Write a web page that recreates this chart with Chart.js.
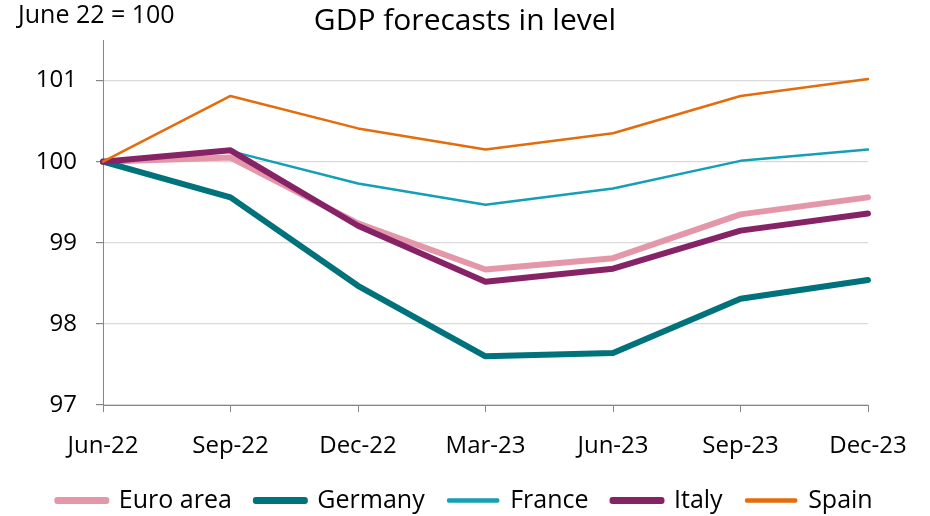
<!DOCTYPE html>
<html>
<head>
<meta charset="utf-8">
<title>GDP forecasts in level</title>
<script src="https://cdn.jsdelivr.net/npm/chart.js@4.4.0/dist/chart.umd.min.js"></script>
<style>
  html, body { margin: 0; padding: 0; background: #ffffff; }
  canvas { display: block; }
</style>
</head>
<body>
<canvas id="gdp" width="930" height="516"></canvas>
<script>
// Forecast vintages (x axis)
const quarters = ['Jun-22', 'Sep-22', 'Dec-22', 'Mar-23', 'Jun-23', 'Sep-23', 'Dec-23'];

// GDP level forecasts, index June 22 = 100
const euroArea = [100, 100.05, 99.24, 98.67, 98.81, 99.35, 99.56];
const germany  = [100, 99.56, 98.47, 97.60, 97.64, 98.31, 98.54];
const france   = [100, 100.13, 99.73, 99.47, 99.67, 100.01, 100.15];
const italy    = [100, 100.14, 99.21, 98.52, 98.68, 99.15, 99.36];
const spain    = [100, 100.81, 100.41, 100.15, 100.35, 100.81, 101.02];

// Y axis tick values
const yTicks = [97, 98, 99, 100, 101];

const FONT = '"Open Sans"';

// Note drawn in the top-left corner
const baseNote = {
  id: 'baseNote',
  afterDraw(chart) {
    const ctx = chart.ctx;
    ctx.save();
    ctx.font = '25px ' + FONT;
    ctx.fillStyle = '#000000';
    ctx.textAlign = 'left';
    ctx.textBaseline = 'middle';
    ctx.fillText('June 22 = 100', 18, 16);
    ctx.restore();
  }
};

function series(label, data, color, width, order) {
  return {
    label, data,
    borderColor: color,
    backgroundColor: color,
    borderWidth: width,
    legendWidth: width >= 5 ? 6 : 3.5,
    pointRadius: 0,
    pointHoverRadius: 0,
    tension: 0,
    fill: false,
    borderJoinStyle: 'round',
    borderCapStyle: 'round',
    order
  };
}

new Chart(document.getElementById('gdp'), {
  type: 'line',
  data: {
    labels: quarters,
    datasets: [
      series('Euro area', euroArea, '#E597AA', 6, 5),
      series('Germany', germany, '#00727C', 6, 4),
      series('France', france, '#13A0B4', 2.5, 3),
      series('Italy', italy, '#862367', 6, 2),
      series('Spain', spain, '#E46C0A', 2.5, 1)
    ]
  },
  options: {
    responsive: false,
    devicePixelRatio: 1,
    animation: false,
    layout: { padding: { left: 0, right: 0, top: 0, bottom: -7 } },
    plugins: {
      title: {
        display: true,
        text: 'GDP forecasts in level',
        color: '#000000',
        font: { family: FONT, size: 30, weight: 'normal' },
        padding: { top: 3, bottom: 1 }
      },
      legend: {
        position: 'bottom',
        labels: {
          color: '#000000',
          font: { family: FONT, size: 25 },
          boxWidth: 49,
          boxHeight: 1,
          padding: 24,
          generateLabels(chart) {
            return chart.data.datasets.map((ds, i) => ({
              text: ds.label,
              fillStyle: ds.borderColor,
              strokeStyle: ds.borderColor,
              lineWidth: ds.legendWidth,
              lineCap: 'round',
              lineJoin: 'round',
              hidden: false,
              datasetIndex: i,
              fontColor: '#000000'
            }));
          }
        }
      },
      tooltip: { enabled: false }
    },
    scales: {
      x: {
        offset: false,
        grid: {
          drawOnChartArea: false,
          drawTicks: true,
          tickLength: 7,
          tickColor: '#868686',
          color: '#868686'
        },
        border: { color: '#868686', width: 1 },
        ticks: {
          color: '#000000',
          font: { family: FONT, size: 24 },
          padding: 20,
          maxRotation: 0,
          autoSkip: false
        },
        afterFit(scale) { scale.height = 59; }
      },
      y: {
        min: 97,
        max: 101.5,
        afterBuildTicks(scale) {
          scale.ticks = yTicks.map(v => ({ value: v }));
        },
        grid: {
          color: '#D9D9D9',
          lineWidth: 1.2,
          tickColor: '#868686',
          tickLength: 7
        },
        border: { color: '#868686', width: 1 },
        ticks: {
          color: '#000000',
          font: { family: FONT, size: 24 },
          padding: 19
        },
        afterFit(scale) { scale.width = 103; }
      },
      // Blank right-hand margin that leaves room for the last x label
      margin: {
        type: 'linear',
        position: 'right',
        min: 97,
        max: 101.5,
        grid: { display: false, drawTicks: false },
        border: { display: false },
        ticks: { display: false },
        afterFit(scale) { scale.width = 62; }
      }
    }
  },
  plugins: [baseNote]
});
</script>
</body>
</html>
